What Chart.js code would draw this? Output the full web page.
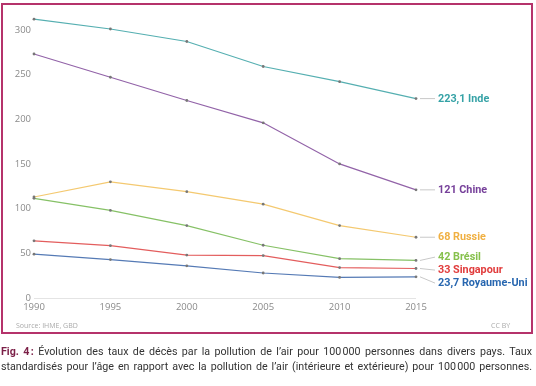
<!DOCTYPE html>
<html>
<head>
<meta charset="utf-8">
<script src="https://cdn.jsdelivr.net/npm/chart.js@4/dist/chart.umd.min.js"></script>
<style>
  body { margin: 0; background: #fff; width: 536px; height: 386px; position: relative; overflow: hidden; }
  #frame { position: absolute; left: 1px; top: 3px; width: 528px; height: 327px; border: 2px solid #b5336b; }
  #chartBox { position: absolute; left: 0; top: 0; width: 536px; height: 335px; }
  .small { position: absolute; font: 7px "Open Sans", sans-serif; color: #aaa; }
  #caption { position: absolute; left: 1px; top: 344px; width: 531px; font: 10.7px Roboto, sans-serif; color: #333; line-height: 15px; }
  #caption div { text-align: justify; text-align-last: justify; white-space: nowrap; }
  #caption b { color: #7b1f47; }
</style>
</head>
<body>
<div id="chartBox"><canvas id="myChart" width="536" height="335"></canvas></div>
<div id="frame"></div>
<div class="small" style="left:16px; top:321px;">Source: IHME, GBD</div>
<div class="small" style="left:491px; top:321px;">CC BY</div>
<div id="caption">
  <div><b>Fig. 4&#8239;:</b> Évolution des taux de décès par la pollution de l’air pour 100&#8239;000 personnes dans divers pays. Taux</div>
  <div>standardisés pour l’âge en rapport avec la pollution de l’air (intérieure et extérieure) pour 100&#8239;000 personnes.</div>
</div>
<script>
// ---- data ----
const years = ["1990", "1995", "2000", "2005", "2010", "2015"];
const inde = [312, 301, 287, 259, 242, 223.1];
const chine = [273, 247, 221, 196, 150, 121];
const russie = [113, 130, 119, 105, 81, 68];
const bresil = [111.5, 98, 81, 59, 44, 42];
const singapour = [64, 58.5, 48, 47.5, 34, 33];
const royaumeUni = [49, 43, 36, 28, 23, 23.7];
const yTicks = [0, 50, 100, 150, 200, 250, 300];

const countries = ["Inde", "Chine", "Russie", "Brésil", "Singapour", "Royaume-Uni"];
const endLabels = ["223,1 Inde", "121 Chine", "68 Russie", "42 Brésil", "33 Singapour", "23,7 Royaume-Uni"];
const series = [inde, chine, russie, bresil, singapour, royaumeUni];
const lineColors = ["#55afb1", "#9263a8", "#f4c970", "#86c166", "#e35d5d", "#557ab5"];
const labelColors = ["#35a2a6", "#76409a", "#f0b042", "#86c04c", "#e13c3c", "#2867b0"];

// ---- end labels on the right, spread apart when they overlap ----
const endLabelPlugin = {
  id: "endLabels",
  afterDatasetsDraw(chart) {
    const c = chart.ctx;
    const items = chart.data.datasets.map((ds, i) => {
      const pt = chart.getDatasetMeta(i).data[ds.data.length - 1];
      return { i, px: pt.x, py: pt.y, y: pt.y };
    }).sort((a, b) => a.py - b.py);
    const gap = 13;
    // group neighbours that are too close and centre them
    let groups = items.map(it => [it]);
    let moved = true;
    while (moved) {
      moved = false;
      for (let g = 0; g < groups.length - 1; g++) {
        const a = groups[g], b = groups[g + 1];
        if (b[0].y - a[a.length - 1].y < gap) {
          const all = a.concat(b);
          const mean = all.reduce((s, it) => s + it.py, 0) / all.length + 1.5;
          all.forEach((it, k) => { it.y = mean + (k - (all.length - 1) / 2) * gap; });
          groups.splice(g, 2, all);
          moved = true;
          break;
        }
      }
    }
    c.save();
    c.font = "bold 10.8px Roboto, sans-serif";
    c.textBaseline = "middle";
    items.forEach(it => {
      const lx = it.px + 22;
      c.strokeStyle = "#c8c8c8";
      c.lineWidth = 1;
      c.beginPath();
      c.moveTo(it.px + 4, it.py);
      c.lineTo(lx - 3, it.y);
      c.stroke();
      c.fillStyle = labelColors[it.i];
      c.fillText(endLabels[it.i], lx, it.y + 0.5);
    });
    c.restore();
  }
};

const ctx = document.getElementById("myChart").getContext("2d");
new Chart(ctx, {
  type: "line",
  data: {
    labels: years,
    datasets: series.map((vals, i) => ({
      label: countries[i],
      data: vals,
      borderColor: lineColors[i],
      backgroundColor: lineColors[i],
      borderWidth: 1.2,
      pointRadius: 1.4,
      pointBackgroundColor: "#777",
      pointBorderWidth: 0,
      tension: 0
    }))
  },
  options: {
    responsive: false,
    animation: false,
    layout: { padding: { left: 0, right: 120, top: 12, bottom: 0 } },
    plugins: { legend: { display: false }, tooltip: { enabled: false } },
    scales: {
      x: {
        offset: false,
        grid: { display: false, drawTicks: false },
        border: { display: false },
        ticks: { color: "#8a8a8a", font: { family: "Open Sans", size: 9.5 }, padding: 4, maxRotation: 0 },
        afterFit(axis) { axis.height = 37; }
      },
      y: {
        min: 0,
        max: 320,
        afterBuildTicks(axis) { axis.ticks = yTicks.map(v => ({ value: v })); },
        grid: {
          drawTicks: false,
          color: c => c.tick && c.tick.value === 0 ? "#e4e4e4" : "rgba(0,0,0,0)"
        },
        border: { display: false },
        ticks: { color: "#8a8a8a", font: { family: "Open Sans", size: 9.5 }, padding: 3 },
        afterFit(axis) { axis.width = 34; }
      }
    }
  },
  plugins: [endLabelPlugin]
});
</script>
</body>
</html>
